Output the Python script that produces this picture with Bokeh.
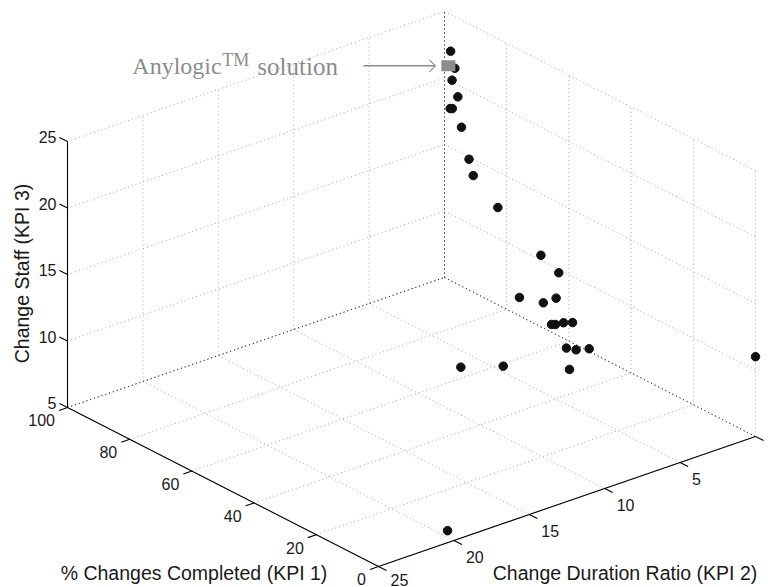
import math
from bokeh.plotting import figure
from bokeh.models import Range1d
from bokeh.core.properties import value
from bokeh.embed import file_html
from bokeh.resources import INLINE

# ---------------- data ----------------
kpi1 = [94.3, 92.3, 93.2, 91.2, 92.8, 92.5, 89.3, 86.3, 84.6, 79.4, 65.9, 57.0,
        72.8, 62.7, 57.8, 63.5, 58.0, 57.6, 51.5, 57.7, 50.8, 49.5, 49.3, 64.2,
        59.1, 4.5, 0.0]
kpi2 = [0.77, 0.90, 0.90, 0.93, 1.11, 1.03, 1.08, 1.20, 1.27, 0.71, 0.64, 1.29,
        0.64, 1.14, 1.30, 0.43, 1.31, 0.85, 1.51, 0.64, 1.42, 0.82, 2.17, 6.30,
        4.54, 19.49, 0.0]
kpi3 = [23, 22, 21, 20, 19, 19, 18, 16, 15, 13, 11, 11,
        7, 8, 9, 6, 7, 7, 8, 5, 6, 6, 5, 5,
        5, 5, 11]

anylogic_kpi1 = [94.1]
anylogic_kpi2 = [0.96]
anylogic_kpi3 = [22]

kpi1_ticks = [0, 20, 40, 60, 80, 100]
kpi2_ticks = [0, 5, 10, 15, 20, 25]
kpi3_ticks = [5, 10, 15, 20, 25]
kpi1_lim = (0, 100)
kpi2_lim = (0, 25)
kpi3_lim = (5, 25)

label_kpi1 = "% Changes Completed (KPI 1)"
label_kpi2 = "Change Duration Ratio (KPI 2)"
label_kpi3 = "Change Staff (KPI 3)"

# ---------------- projection (view of the 3-D box) ----------------
ORIGIN = (755.0, 436.0)     # screen point of (kpi1=0, kpi2=0, kpi3=5)
VA = (-3.11, -1.59)         # per unit kpi1
VB = (-15.08, 5.2)          # per unit kpi2
VC = (0.0, -13.3)           # per unit kpi3


def proj(k1, k2, k3):
    return (ORIGIN[0] + k1 * VA[0] + k2 * VB[0] + (k3 - kpi3_lim[0]) * VC[0],
            ORIGIN[1] + k1 * VA[1] + k2 * VB[1] + (k3 - kpi3_lim[0]) * VC[1])


def unit(v):
    n = math.hypot(v[0], v[1])
    return (v[0] / n, v[1] / n)


W, H = 768, 587
p = figure(width=W, height=H, x_range=Range1d(0, W), y_range=Range1d(H, 0),
           output_backend="svg", toolbar_location=None, min_border=0,
           x_axis_location=None, y_axis_location=None)
p.grid.visible = False
p.outline_line_color = None
p.background_fill_color = "white"
p.border_fill_color = "white"

x1lo, x1hi = kpi1_lim
x2lo, x2hi = kpi2_lim
zlo, zhi = kpi3_lim


def seg(a, b):
    pa, pb = proj(*a), proj(*b)
    return [pa[0], pb[0]], [pa[1], pb[1]]


# grid lines (gray, dotted)
gxs, gys = [], []
for z in kpi3_ticks:
    for s in (seg((x1hi, x2hi, z), (x1hi, x2lo, z)), seg((x1hi, x2lo, z), (x1lo, x2lo, z))):
        gxs.append(s[0]); gys.append(s[1])
for k2 in kpi2_ticks:
    for s in (seg((x1hi, k2, zlo), (x1hi, k2, zhi)), seg((x1hi, k2, zlo), (x1lo, k2, zlo))):
        gxs.append(s[0]); gys.append(s[1])
for k1 in kpi1_ticks:
    for s in (seg((k1, x2lo, zlo), (k1, x2lo, zhi)), seg((k1, x2hi, zlo), (k1, x2lo, zlo))):
        gxs.append(s[0]); gys.append(s[1])
p.multi_line(gxs, gys, line_color="#a8a8a8", line_width=1, line_dash="1 3")

# back edges of the box (dark, dotted)
bxs, bys = [], []
for s in (seg((x1hi, x2lo, zlo), (x1hi, x2lo, zhi)),
          seg((x1hi, x2hi, zlo), (x1hi, x2lo, zlo)),
          seg((x1hi, x2lo, zlo), (x1lo, x2lo, zlo))):
    bxs.append(s[0]); bys.append(s[1])
p.multi_line(bxs, bys, line_color="#222222", line_width=1, line_dash="1 3")

# axes (solid)
axs, ays = [], []
for s in (seg((x1hi, x2hi, zlo), (x1hi, x2hi, zhi)),
          seg((x1hi, x2hi, zlo), (x1lo, x2hi, zlo)),
          seg((x1lo, x2hi, zlo), (x1lo, x2lo, zlo))):
    axs.append(s[0]); ays.append(s[1])

TL = 9.0
dz = unit(VA)                       # kpi3 ticks point along +kpi1
d1 = unit(VB)                       # kpi1 ticks point along +kpi2
d2 = (-unit(VA)[0], -unit(VA)[1])   # kpi2 ticks point along -kpi1

FONT = value("Liberation Sans")
TICK_FS = "16px"

zt_x, zt_y, zt_t = [], [], []
for z in kpi3_ticks:
    x0, y0 = proj(x1hi, x2hi, z)
    xe, ye = x0 + TL * dz[0], y0 + TL * dz[1]
    axs.append([x0, xe]); ays.append([y0, ye])
    zt_x.append(xe - 3); zt_y.append(ye); zt_t.append(str(z))

t1_x, t1_y, t1_t = [], [], []
for k1 in kpi1_ticks:
    x0, y0 = proj(k1, x2hi, zlo)
    xe, ye = x0 + TL * d1[0], y0 + TL * d1[1]
    axs.append([x0, xe]); ays.append([y0, ye])
    t1_x.append(xe - 4); t1_y.append(min(ye + 4, H - 14)); t1_t.append(str(k1))

t2_x, t2_y, t2_t = [], [], []
for k2 in kpi2_ticks:
    x0, y0 = proj(x1lo, k2, zlo)
    xe, ye = x0 + TL * d2[0], y0 + TL * d2[1]
    axs.append([x0, xe]); ays.append([y0, ye])
    if xe + 4 < W - 8:
        t2_x.append(xe + 4); t2_y.append(min(ye + 6, H - 14)); t2_t.append(str(k2))

p.multi_line(axs, ays, line_color="#000000", line_width=1.1)

p.text(zt_x, zt_y, text=zt_t, text_font=FONT, text_font_size=TICK_FS,
       text_align="right", text_baseline="middle", text_color="#1a1a1a")
p.text(t1_x, t1_y, text=t1_t, text_font=FONT, text_font_size=TICK_FS,
       text_align="right", text_baseline="top", text_color="#1a1a1a")
p.text(t2_x, t2_y, text=t2_t, text_font=FONT, text_font_size=TICK_FS,
       text_align="left", text_baseline="top", text_color="#1a1a1a")

# axis labels
zx0, zy0 = proj(x1hi, x2hi, (zlo + zhi) / 2)
p.text([zx0 - 46], [zy0 - 1], text=[label_kpi3], angle=math.pi / 2,
       text_font=FONT, text_font_size="19.5px", text_align="center",
       text_baseline="middle", text_color="#1a1a1a")
ax1, _ = proj((x1lo + x1hi) / 2, x2hi, zlo)
p.text([ax1 - 29], [H - 26], text=[label_kpi1], text_font=FONT,
       text_font_size="19.5px", text_align="center", text_baseline="top",
       text_color="#1a1a1a")
ax2, _ = proj(x1lo, (x2lo + x2hi) / 2, zlo)
p.text([ax2 + 58], [H - 26], text=[label_kpi2], text_font=FONT,
       text_font_size="19.5px", text_align="center", text_baseline="top",
       text_color="#1a1a1a")

# data points
pts = [proj(a, b, c) for a, b, c in zip(kpi1, kpi2, kpi3)]
p.scatter([q[0] for q in pts], [q[1] for q in pts], size=8.5,
          fill_color="#111111", line_color="#111111")

# Anylogic solution marker and annotation
sq = [proj(a, b, c) for a, b, c in zip(anylogic_kpi1, anylogic_kpi2, anylogic_kpi3)]
sqx, sqy = sq[0]
p.rect([sqx], [sqy], width=14, height=11, fill_color="#8c8c8c", line_color=None)

ANN = "#8c8c8c"
tip = sqx - 13
p.line([sqx - 85, tip], [sqy, sqy], line_color=ANN, line_width=1.3)
p.multi_line([[tip - 6, tip, tip - 6]], [[sqy - 6, sqy, sqy + 6]], line_color=ANN, line_width=1.1)

SERIF = value("Liberation Serif")
p.text([sqx - 316], [sqy - 13], text=["Anylogic"], text_font=SERIF, text_font_size="24px",
       text_align="left", text_baseline="top", text_color=ANN)
p.text([sqx - 226], [sqy - 15.5], text=["TM"], text_font=SERIF, text_font_size="18px",
       text_align="left", text_baseline="top", text_color=ANN)
p.text([sqx - 191], [sqy - 13], text=["solution"], text_font=SERIF, text_font_size="25px",
       text_align="left", text_baseline="top", text_color=ANN)

open("out.html", "w").write(file_html(p, INLINE))
